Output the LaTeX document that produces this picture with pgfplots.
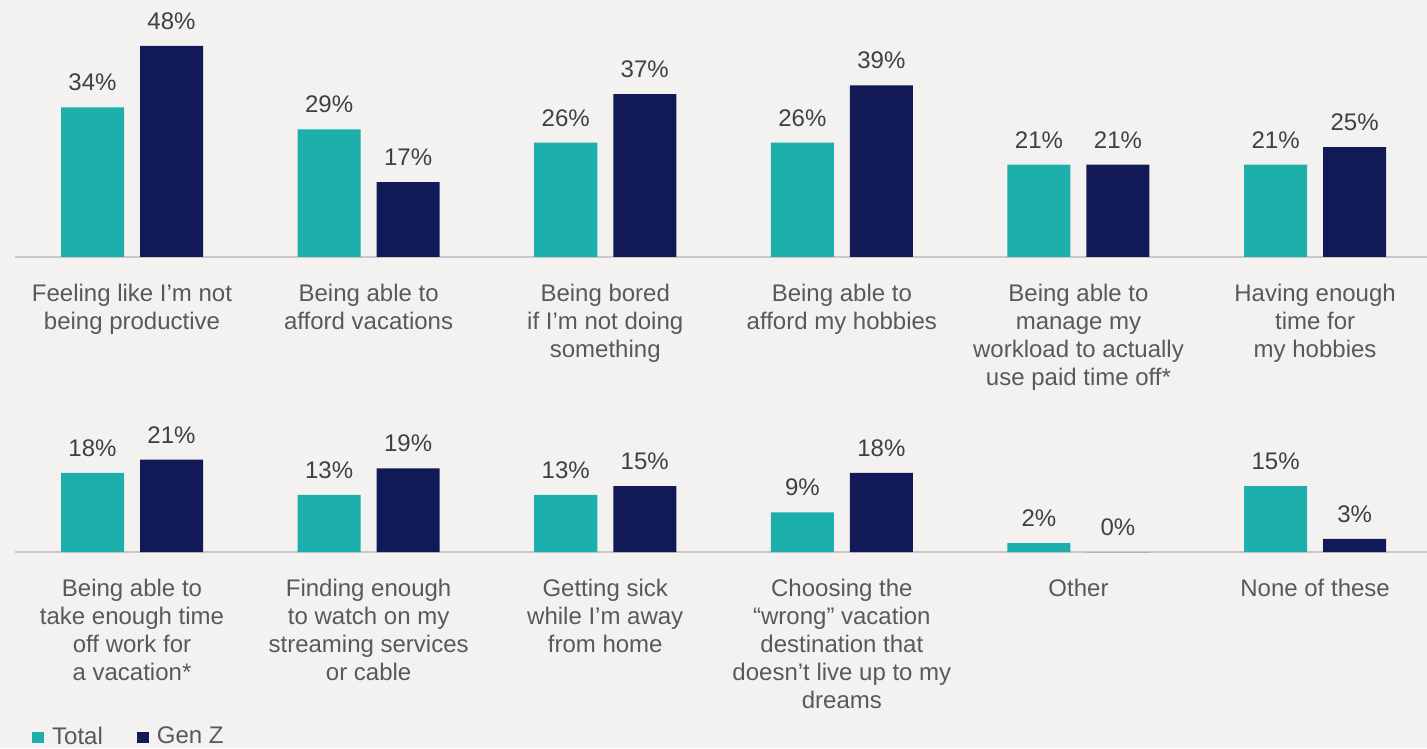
\documentclass[border=0pt]{standalone}
\usepackage{pgfplots}
\pgfplotsset{compat=1.18}
\usepackage{fontspec}
\setmainfont{Liberation Sans}
\definecolor{teal1}{HTML}{1DAFAC}
\definecolor{navy1}{HTML}{111A57}
\definecolor{bg}{HTML}{F3F2F1}
\definecolor{lbl}{HTML}{404040}
\definecolor{cat}{HTML}{595959}
\definecolor{axl}{HTML}{C8C8C8}
\pgfplotsset{rowstyle/.style={
  scale only axis, width=1412pt, ybar=16pt, bar width=63pt,
  xmin=-0.4945, xmax=5.473, ymin=0,
  axis x line*=bottom, axis y line=none,
  x axis line style={draw=axl, line width=1.5pt},
  xtick={0,...,5}, major tick length=0pt,
  xticklabel style={align=center, anchor=north, inner sep=0pt, yshift=-27pt, font=\fontsize{24}{28}\selectfont, text=cat},
  nodes near coords={\pgfmathprintnumber{\pgfplotspointmeta}\%},
  /pgf/number format/assume math mode=true,
  every node near coord/.append style={font=\fontsize{24}{28}\selectfont, text=lbl, inner sep=0pt, anchor=south, yshift=16pt},
  clip=false,
}}
\begin{document}
\begin{tikzpicture}
\fill[bg] (0,0) rectangle (1427pt,748pt);
\useasboundingbox (0,0) rectangle (1427pt,748pt);
\begin{axis}[rowstyle, at={(15pt,491pt)}, anchor=south west, height=242pt, ymax=55,
  xticklabels={{Feeling like I’m not\\being productive},{Being able to\\afford vacations},{Being bored\\if I’m not doing\\something},{Being able to\\afford my hobbies},{Being able to\\manage my\\workload to actually\\use paid time off*},{Having enough\\time for\\my hobbies}}]
\addplot[fill=teal1, draw=none] coordinates {(0,34) (1,29) (2,26) (3,26) (4,21) (5,21)};
\addplot[fill=navy1, draw=none] coordinates {(0,48) (1,17) (2,37) (3,39) (4,21) (5,25)};
\end{axis}
\begin{axis}[rowstyle, at={(15pt,196pt)}, anchor=south west, height=110pt, ymax=25,
  xticklabels={{Being able to\\take enough time\\off work for\\a vacation*},{Finding enough\\to watch on my\\streaming services\\or cable},{Getting sick\\while I’m away\\from home},{Choosing the\\“wrong” vacation\\destination that\\doesn’t live up to my\\dreams},{Other},{None of these}},
  legend columns=2,
  legend image code/.code={\fill[#1] (0pt,-7pt) rectangle (12pt,4pt);},
  legend style={at={(axis description cs:0,0)}, anchor=south west, xshift=17pt, yshift=-194pt, draw=none, fill=none, inner sep=0pt, font=\fontsize{24}{28}\selectfont, text=cat, column sep=8pt, /tikz/every even column/.append style={column sep=34pt}, nodes={inner sep=0pt}}]
\addplot[fill=teal1, draw=none] coordinates {(0,18) (1,13) (2,13) (3,9) (4,2) (5,15)};
\addplot[fill=navy1, draw=none] coordinates {(0,21) (1,19) (2,15) (3,18) (4,0) (5,3)};
\legend{Total, Gen Z}
\end{axis}
\end{tikzpicture}
\end{document}
